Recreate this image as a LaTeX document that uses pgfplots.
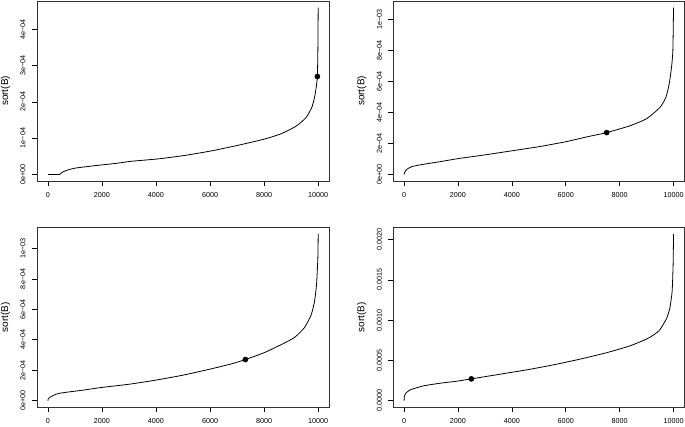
\documentclass[border=0pt]{standalone}
\usepackage{fontspec}
\setmainfont{Liberation Sans}
\usepackage{pgfplots}
\pgfplotsset{compat=1.18}
\pgfplotsset{
  rstyle/.style={
    scale only axis, height=180pt,
    xmin=-400, xmax=10400,
    axis line style={black!80, line width=0.6pt},
    tick style={black, line width=0.6pt},
    tick align=outside, major tick length=5pt,
    xtick pos=left, ytick pos=left,
    scaled y ticks=false, scaled x ticks=false,
    xtick={0,2000,4000,6000,8000,10000},
    xticklabels={0,2000,4000,6000,8000,10000},
    xticklabel style={font=\fontsize{7.2}{8}\selectfont, anchor=center, inner sep=0pt, yshift=-9pt},
    yticklabel style={font=\fontsize{7.2}{8}\selectfont, xshift=-9pt, rotate=90, anchor=center, inner sep=0pt},
    every axis y label/.style={at={([xshift=-31.5pt]rel axis cs:0,0.5)}, rotate=90, anchor=center, font=\fontsize{10}{12}\selectfont},
    ylabel={sort(B)},
    clip=false,
    after end axis/.code={\draw[black!80, line width=0.6pt] (rel axis cs:0,0) rectangle (rel axis cs:1,1);},
  },
  curve/.style={black, line width=0.8pt, mark=none, smooth, tension=0.35},
  dot/.style={only marks, mark=*, mark size=2.6pt, black},
}
\begin{document}
\begin{tikzpicture}
\useasboundingbox (0,0) rectangle (685pt,426pt);
% Panel 1
\begin{axis}[rstyle, at={(37pt,245pt)}, anchor=south west, width=292pt,
  ymin=-0.184e-4, ymax=4.784e-4,
  ytick={0,1e-4,2e-4,3e-4,4e-4},
  yticklabels={0e+00,1e−04,2e−04,3e−04,4e−04}]
\addplot[black, line width=0.8pt, mark=none] coordinates {(0,0) (450,0)};
\addplot[curve] coordinates {
(450,0) (480,0.3e-5) (530,0.55e-5) (604,0.83e-5) (800,1.35e-5) (1000,1.7e-5) (1222,1.93e-5) (1840,2.48e-5)
(2500,3.0e-5) (3074,3.59e-5) (4062,4.25e-5) (5049,5.2e-5) (6037,6.45e-5) (7025,8.0e-5)
(8000,9.7e-5) (8630,1.12e-4) (9185,1.33e-4) (9556,1.57e-4) (9765,1.85e-4) (9863,2.12e-4)
(9926,2.40e-4) (9970,2.7e-4) (9988,3.41e-4) (10000,4.6e-4)};
\addplot[dot] coordinates {(9970,2.7e-4)};
\end{axis}
% Panel 2
\begin{axis}[rstyle, at={(393.3pt,245pt)}, anchor=south west, width=291pt,
  ymin=-0.043e-3, ymax=1.121e-3,
  ytick={0,2e-4,4e-4,6e-4,8e-4,1e-3},
  yticklabels={0e+00,2e−04,4e−04,6e−04,8e−04,1e−03}]
\addplot[curve] coordinates {
(0,0) (30,1.5e-5) (99,3.2e-5) (284,5.0e-5) (717,6.5e-5) (1335,8.2e-5) (2015,1.02e-4)
(3004,1.26e-4) (3993,1.52e-4) (5043,1.8e-4) (6032,2.12e-4) (6774,2.42e-4) (7520,2.7e-4)
(8380,3.14e-4) (9000,3.6e-4) (9492,4.32e-4) (9715,4.97e-4) (9838,5.84e-4) (9925,6.92e-4)
(9975,8.0e-4) (10000,1.078e-3)};
\addplot[dot] coordinates {(7520,2.7e-4)};
\end{axis}
% Panel 3
\begin{axis}[rstyle, at={(37pt,18.7pt)}, anchor=south west, width=292pt,
  ymin=-0.0438e-3, ymax=1.139e-3,
  ytick={0,2e-4,4e-4,6e-4,8e-4,1e-3},
  yticklabels={0e+00,2e−04,4e−04,6e−04,8e−04,1e−03}]
\addplot[curve] coordinates {
(0,0) (20,1.2e-5) (111,2.6e-5) (420,4.8e-5) (1346,7.0e-5) (1963,8.6e-5) (3012,1.08e-4)
(4000,1.35e-4) (4988,1.67e-4) (5975,2.06e-4) (6778,2.41e-4) (7309,2.70e-4) (8012,3.16e-4)
(8630,3.68e-4) (9122,4.15e-4) (9493,4.8e-4) (9741,5.64e-4) (9863,6.51e-4) (9938,7.61e-4)
(9988,9.37e-4) (10000,1.095e-3)};
\addplot[dot] coordinates {(7309,2.7e-4)};
\end{axis}
% Panel 4
\begin{axis}[rstyle, at={(393.3pt,18.7pt)}, anchor=south west, width=291pt,
  ymin=-0.083e-3, ymax=2.153e-3,
  ytick={0,5e-4,1e-3,1.5e-3,2e-3},
  yticklabels={0.0000,0.0005,0.0010,0.0015,0.0020}]
\addplot[curve] coordinates {
(0,0) (10,0.5e-4) (62,0.91e-4) (222,1.33e-4) (716,1.83e-4) (1335,2.16e-4) (1954,2.41e-4)
(2497,2.70e-4) (3560,3.28e-4) (4549,3.82e-4) (5538,4.44e-4) (6526,5.15e-4) (7515,5.95e-4)
(8380,6.8e-4) (9000,7.65e-4) (9300,8.25e-4) (9492,8.8e-4) (9741,1.02e-3) (9863,1.15e-3)
(9948,1.357e-3) (9985,1.69e-3) (10000,2.07e-3)};
\addplot[dot] coordinates {(2497,2.7e-4)};
\end{axis}
\end{tikzpicture}
\end{document}
